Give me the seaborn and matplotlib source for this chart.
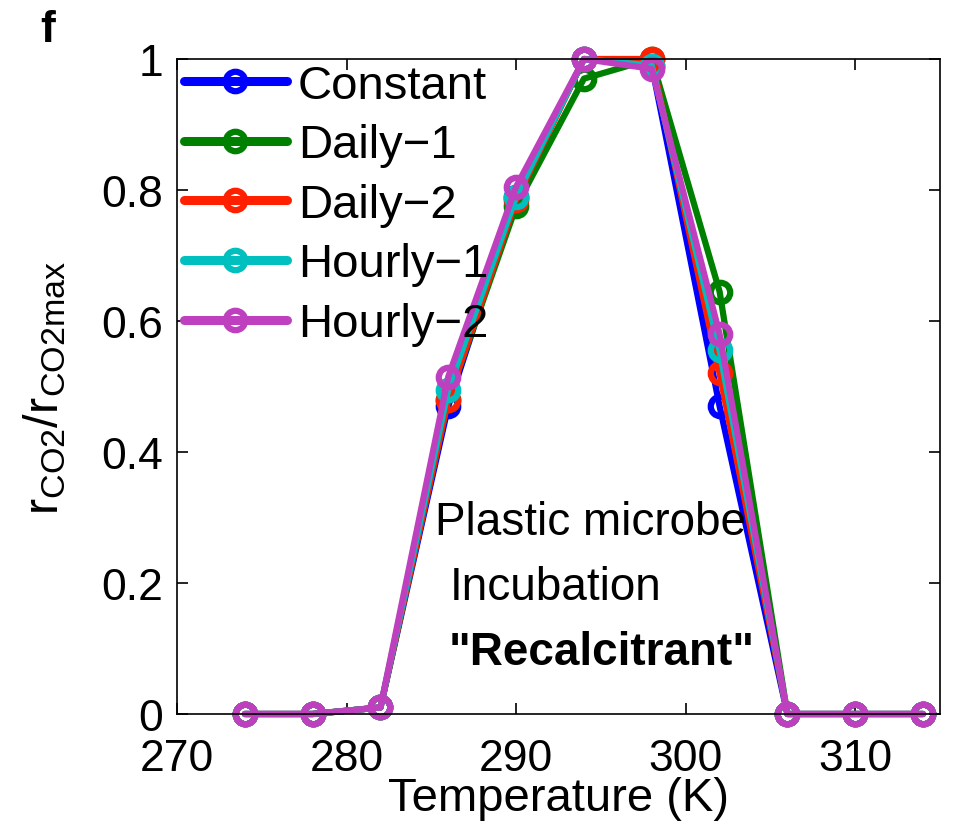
import numpy as np
import pandas as pd
import matplotlib
matplotlib.use("Agg")
import matplotlib.pyplot as plt
import seaborn as sns
from matplotlib.lines import Line2D

temps = [274, 278, 282, 286, 290, 294, 298, 302, 306, 310, 314]
constant = [0, 0, 0.01, 0.47, 0.79, 1.00, 0.99, 0.47, 0, 0, 0]
daily1 = [0, 0, 0.01, 0.48, 0.775, 0.97, 1.00, 0.645, 0, 0, 0]
daily2 = [0, 0, 0.01, 0.48, 0.785, 1.00, 1.00, 0.52, 0, 0, 0]
hourly1 = [0, 0, 0.01, 0.495, 0.79, 1.00, 0.99, 0.555, 0, 0, 0]
hourly2 = [0, 0, 0.01, 0.515, 0.805, 1.00, 0.985, 0.58, 0, 0, 0]
series_names = ["Constant", "Daily\u22121", "Daily\u22122", "Hourly\u22121", "Hourly\u22122"]
colors = ["#0000ff", "#008000", "#ff2000", "#00bfbf", "#bf40bf"]

rows = []
for name, vals in zip(series_names, [constant, daily1, daily2, hourly1, hourly2]):
    for t, v in zip(temps, vals):
        rows.append({"T": t, "r": v, "series": name})
df = pd.DataFrame(rows)

sns.set_style("white")
plt.rcParams['font.family'] = ['Liberation Sans', 'DejaVu Sans']
plt.rcParams['mathtext.fontset'] = 'custom'
plt.rcParams['mathtext.rm'] = 'Liberation Sans'
plt.rcParams['mathtext.it'] = 'Liberation Sans'
for k in ['text.color', 'axes.labelcolor', 'xtick.color', 'ytick.color', 'axes.edgecolor']:
    plt.rcParams[k] = 'black'

FS_TICK = 32
FS_LEG = 34
FS_TXT = 33
MS, MEW, LW = 14, 4.5, 4.5

fig = plt.figure(figsize=(9.56, 8.28), dpi=100)
ax = fig.add_axes([177/956, 1-715/828, (940-177)/956, (715-60)/828])

for name, c in zip(series_names, colors):
    sub = df[df["series"] == name]
    sns.lineplot(data=sub, x="T", y="r", color=c, ax=ax, marker="o",
                 markersize=MS, markerfacecolor="none", markeredgecolor=c,
                 markeredgewidth=MEW, linewidth=LW, clip_on=False, legend=False)

handles = [Line2D([], [], color=c, lw=LW + 2, marker="o", ms=MS, mfc="none",
                  mec=c, mew=MEW) for c in colors]
leg = ax.legend(handles, series_names, loc="upper left", frameon=False,
                fontsize=FS_LEG, handlelength=2.18, handletextpad=0.23,
                labelspacing=0.33, borderaxespad=0.0, borderpad=0.1,
                bbox_to_anchor=(0.003, 1.0))

ax.set_xlim(270, 315)
ax.set_ylim(0, 1)
ax.set_xticks([270, 280, 290, 300, 310])
ax.set_yticks([0, 0.2, 0.4, 0.6, 0.8, 1])
ax.set_yticklabels(["0", "0.2", "0.4", "0.6", "0.8", "1"])
ax.tick_params(direction="in", length=8, width=1.2, labelsize=FS_TICK,
               top=True, right=True, bottom=True, left=True, color="black")
ax.tick_params(axis="x", pad=17)
ax.tick_params(axis="y", pad=10)
for s in ax.spines.values():
    s.set_color("black")
    s.set_linewidth(1.2)

ax.set_xlabel("Temperature (K)", fontsize=FS_TXT + 1, labelpad=-2)
ax.set_ylabel(r"$\mathrm{r_{CO2}/r_{CO2max}}$", fontsize=35, labelpad=24)

ax.text(285.2, 0.275, "Plastic microbe", fontsize=FS_TXT, ha="left", va="baseline")
ax.text(286.1, 0.176, "Incubation", fontsize=FS_TXT, ha="left", va="baseline")
ax.text(286.0, 0.076, "\"Recalcitrant\"", fontsize=FS_TXT, ha="left", va="baseline",
        fontweight="bold")

fig.text(48/956, 1-30/828, "f", fontsize=FS_TICK, fontweight="bold", ha="center", va="center")

fig.savefig("out.png", dpi=100)
